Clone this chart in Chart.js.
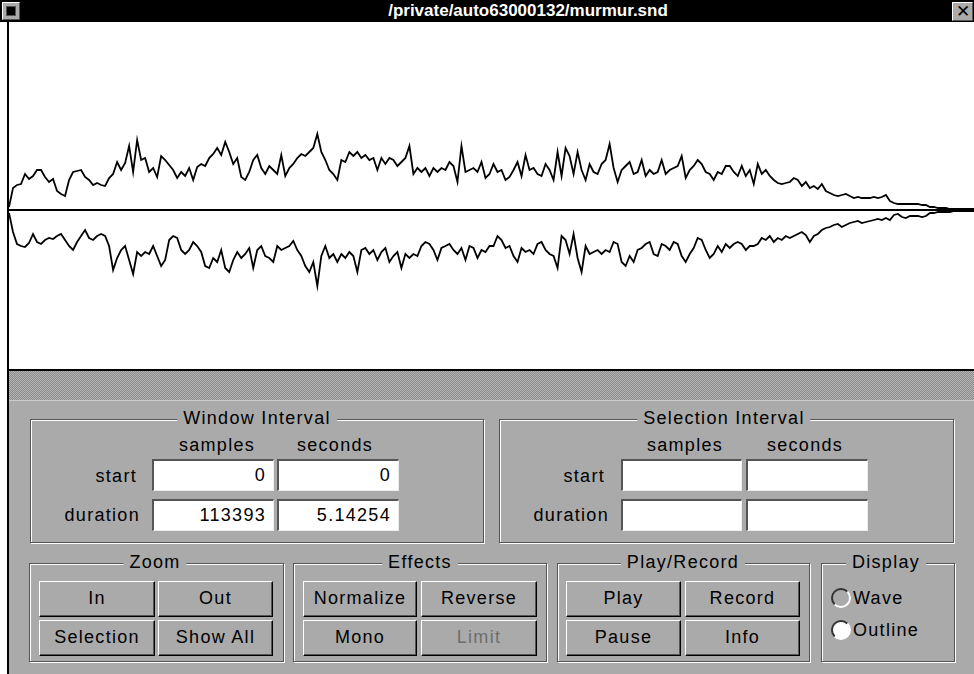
<!DOCTYPE html>
<html>
<head>
<meta charset="utf-8">
<script src="https://cdn.jsdelivr.net/npm/chart.js@4.4.1/dist/chart.umd.min.js"></script>
<style>
  html,body{margin:0;padding:0;}
  body{width:974px;height:674px;overflow:hidden;background:#fff;position:relative;
       font-family:"Liberation Sans",Arial,Helvetica,sans-serif;color:#000;}
  .a{position:absolute;}
  #titlebar{left:0;top:0;width:974px;height:22px;background:#000;}
  #titletext{left:54px;top:0;width:948px;height:22px;line-height:22px;text-align:center;color:#fff;
       font-weight:bold;font-size:17px;letter-spacing:0px;}
  #mini{left:2px;top:2px;width:16px;height:16px;background:#aaa;border-top:1px solid #fff;border-left:1px solid #fff;border-right:1px solid #555;border-bottom:1px solid #555;}
  #mini div{position:absolute;left:3px;top:3px;width:8px;height:8px;background:#000;border:1px solid #555;}
  #close{left:952px;top:2px;width:19px;height:17px;background:#aaa;border-top:1px solid #fff;border-left:1px solid #fff;border-right:1px solid #555;border-bottom:1px solid #555;
       font-size:17px;line-height:17px;text-align:center;color:#000;}
  #lborder{left:7px;top:22px;width:2px;height:652px;background:#000;}
  #wave{left:9px;top:22px;width:965px;height:348px;background:#fff;}
  #wbottom{left:9px;top:369px;width:965px;height:2px;background:#000;}
  #band{left:9px;top:371px;width:965px;height:29px;
        background:repeating-conic-gradient(#8c8c8c 0 25%, #b4b4b4 0 50%) 0 0/2px 2px;}
  #panel{left:9px;top:400px;width:965px;height:274px;background:#aaa;border-top:1px solid #ccc;box-sizing:border-box;}
  #chartbox{left:9px;top:50px;width:965px;height:320px;}
  .grp{position:absolute;box-sizing:border-box;border:1px solid #555;box-shadow:inset 1px 1px 0 #fff, 1px 1px 0 #fff;}
  .gt{position:absolute;background:#aaa;font-size:18px;letter-spacing:1.3px;padding:0 6px;line-height:20px;transform:translateX(-50%);white-space:nowrap;}
  .lbl{position:absolute;font-size:18px;letter-spacing:1.3px;line-height:20px;white-space:nowrap;}
  .c{transform:translateX(-50%);}
  .r{transform:translateX(-100%);}
  .fld{position:absolute;box-sizing:border-box;background:#fff;border-top:2px solid #555;border-left:2px solid #555;
       border-right:1px solid #eee;border-bottom:1px solid #eee;text-align:right;padding-right:7px;
       font-size:18px;letter-spacing:1.3px;height:32px;line-height:29px;}
  .btn{position:absolute;box-sizing:border-box;background:#aaa;border-top:1px solid #fff;border-left:1px solid #fff;
       border-right:1px solid #000;border-bottom:1px solid #000;box-shadow:inset -1px -1px 0 #555;
       text-align:center;font-size:18px;letter-spacing:1.3px;height:36px;line-height:33px;}
  .dis{color:#6e6e6e;}
  .radio{position:absolute;box-sizing:border-box;width:20px;height:20px;border-radius:50%;
       border:2px solid;border-color:#333 #fff #fff #333;background:#aaa;}
  .radio.on{background:#fff;}
</style>
</head>
<body>
<div id="titlebar" class="a"></div>
<div id="titletext" class="a">/private/auto63000132/murmur.snd</div>
<div id="mini" class="a"><div></div></div>
<div id="close" class="a">✕</div>
<div id="lborder" class="a"></div>
<div id="wave" class="a"></div>
<div id="chartbox" class="a"><canvas id="c" width="965" height="320"></canvas></div>
<div id="wbottom" class="a"></div>
<div id="band" class="a"></div>
<div id="panel" class="a"></div>

<!-- Window Interval -->
<div class="grp" style="left:30px;top:419px;width:454px;height:124px;"></div>
<div class="gt" style="left:257px;top:408px;">Window Interval</div>
<div class="lbl c" style="left:217px;top:435px;">samples</div>
<div class="lbl c" style="left:335px;top:435px;">seconds</div>
<div class="lbl r" style="left:137px;top:466px;">start</div>
<div class="lbl r" style="left:140px;top:505px;">duration</div>
<div class="fld" style="left:152px;top:459px;width:122px;">0</div>
<div class="fld" style="left:277px;top:459px;width:122px;">0</div>
<div class="fld" style="left:152px;top:499px;width:122px;">113393</div>
<div class="fld" style="left:277px;top:499px;width:122px;">5.14254</div>

<!-- Selection Interval -->
<div class="grp" style="left:499px;top:419px;width:455px;height:124px;"></div>
<div class="gt" style="left:724px;top:408px;">Selection Interval</div>
<div class="lbl c" style="left:685px;top:435px;">samples</div>
<div class="lbl c" style="left:805px;top:435px;">seconds</div>
<div class="lbl r" style="left:605px;top:466px;">start</div>
<div class="lbl r" style="left:609px;top:505px;">duration</div>
<div class="fld" style="left:621px;top:459px;width:121px;"></div>
<div class="fld" style="left:746px;top:459px;width:122px;"></div>
<div class="fld" style="left:621px;top:499px;width:121px;"></div>
<div class="fld" style="left:746px;top:499px;width:122px;"></div>

<!-- Zoom -->
<div class="grp" style="left:29px;top:563px;width:255px;height:99px;"></div>
<div class="gt" style="left:155px;top:552px;">Zoom</div>
<div class="btn" style="left:39px;top:581px;width:116px;">In</div>
<div class="btn" style="left:158px;top:581px;width:115px;">Out</div>
<div class="btn" style="left:39px;top:620px;width:116px;">Selection</div>
<div class="btn" style="left:158px;top:620px;width:115px;">Show All</div>

<!-- Effects -->
<div class="grp" style="left:293px;top:563px;width:254px;height:99px;"></div>
<div class="gt" style="left:420px;top:552px;">Effects</div>
<div class="btn" style="left:303px;top:581px;width:114px;">Normalize</div>
<div class="btn" style="left:421px;top:581px;width:116px;">Reverse</div>
<div class="btn" style="left:303px;top:620px;width:114px;">Mono</div>
<div class="btn dis" style="left:421px;top:620px;width:116px;">Limit</div>

<!-- Play/Record -->
<div class="grp" style="left:557px;top:563px;width:253px;height:99px;"></div>
<div class="gt" style="left:683px;top:552px;">Play/Record</div>
<div class="btn" style="left:566px;top:581px;width:115px;">Play</div>
<div class="btn" style="left:685px;top:581px;width:115px;">Record</div>
<div class="btn" style="left:566px;top:620px;width:115px;">Pause</div>
<div class="btn" style="left:685px;top:620px;width:115px;">Info</div>

<!-- Display -->
<div class="grp" style="left:821px;top:563px;width:134px;height:99px;"></div>
<div class="gt" style="left:886px;top:552px;">Display</div>
<div class="radio" style="left:831px;top:588px;"></div>
<div class="lbl" style="left:853px;top:588px;">Wave</div>
<div class="radio on" style="left:831px;top:620px;"></div>
<div class="lbl" style="left:853px;top:620px;">Outline</div>

<script>
// Outline (envelope) of murmur.snd, one value every ~470 samples
const upperEnvelope = [
  3,22,25,26,36,31,34,40,40,33,28,
  31,19,16,14,30,38,39,40,33,30,
  25,27,25,24,32,36,48,40,47,64,
  38,70,50,52,38,42,33,54,50,45,
  40,32,38,34,42,30,43,46,44,52,
  56,62,55,68,58,46,52,33,30,38,
  50,55,42,36,44,40,36,55,34,42,
  46,52,56,54,58,62,76,58,50,40,
  36,30,50,48,58,54,58,52,55,50,
  52,40,52,46,52,50,44,48,52,64,
  36,42,38,42,34,42,38,42,40,48,
  44,28,64,38,40,42,38,48,32,36,
  46,38,40,30,33,40,48,34,55,40,
  42,36,34,46,40,30,58,34,62,54,
  36,58,40,30,46,38,36,46,50,66,
  42,28,40,44,48,36,38,50,34,40,
  36,38,50,36,40,42,44,54,32,40,
  44,50,46,38,36,30,38,36,44,44,
  38,34,44,34,40,26,46,36,40,34,
  30,27,26,27,28,32,30,24,28,22,
  24,21,26,19,17,15,14,15,16,14,
  12,13,12,12,12,13,12,13,15,9,
  7,6,6,6,6,6,6,5,5,3,
  3,2,2,2,1,1,1,1,1,1,1
];
const lowerEnvelope = [
  -3,-22,-34,-36,-37,-33,-24,-32,-34,-30,-28,
  -29,-26,-24,-30,-36,-40,-32,-26,-20,-28,
  -30,-26,-24,-26,-36,-60,-48,-40,-36,-50,
  -64,-42,-46,-42,-44,-36,-46,-56,-50,-30,
  -26,-28,-40,-44,-40,-32,-36,-42,-56,-58,
  -48,-52,-40,-58,-62,-50,-42,-48,-44,-38,
  -58,-40,-36,-46,-48,-52,-36,-40,-38,-36,
  -31,-40,-46,-56,-62,-52,-76,-46,-36,-48,
  -44,-52,-44,-48,-42,-46,-62,-40,-38,-44,
  -40,-50,-42,-38,-52,-46,-42,-58,-44,-48,
  -44,-46,-36,-32,-34,-40,-50,-38,-36,-34,
  -40,-44,-38,-50,-36,-38,-48,-40,-42,-36,
  -36,-26,-30,-38,-36,-46,-52,-38,-42,-40,
  -44,-34,-32,-40,-44,-46,-58,-26,-30,-44,
  -24,-48,-62,-36,-44,-42,-40,-44,-40,-42,
  -32,-34,-52,-56,-46,-52,-40,-38,-34,-32,
  -44,-46,-34,-36,-40,-32,-34,-46,-52,-44,
  -38,-28,-30,-40,-48,-44,-36,-42,-34,-38,
  -34,-32,-34,-40,-36,-36,-34,-28,-30,-26,
  -32,-28,-30,-26,-28,-26,-24,-22,-25,-32,
  -26,-24,-20,-18,-17,-15,-14,-17,-15,-13,
  -12,-11,-13,-12,-11,-10,-9,-10,-8,-10,
  -5,-4,-7,-8,-6,-6,-6,-7,-6,-3,
  -3,-2,-2,-2,-2,-1,-1,-1,-1,-1,-1
];
const frames = upperEnvelope.map((_, i) => i);
const amplitudeRange = [-160, 160];

const baseline = {
  id: 'baseline',
  beforeDatasetsDraw(chart) {
    const y = chart.scales.y.getPixelForValue(0);
    const ctx = chart.ctx;
    ctx.save();
    ctx.strokeStyle = '#000';
    ctx.lineWidth = 2;
    ctx.beginPath();
    ctx.moveTo(chart.chartArea.left, y);
    ctx.lineTo(chart.chartArea.right, y);
    ctx.stroke();
    ctx.restore();
  }
};

new Chart(document.getElementById('c'), {
  type: 'line',
  data: {
    labels: frames,
    datasets: [
      { data: upperEnvelope, borderColor: '#000', borderWidth: 1.8, pointRadius: 0, tension: 0, fill: false },
      { data: lowerEnvelope, borderColor: '#000', borderWidth: 1.8, pointRadius: 0, tension: 0, fill: false }
    ]
  },
  options: {
    responsive: false,
    animation: false,
    devicePixelRatio: 1,
    layout: { padding: 0 },
    plugins: { legend: { display: false }, tooltip: { enabled: false } },
    scales: {
      x: { display: false, offset: false },
      y: { display: false, min: amplitudeRange[0], max: amplitudeRange[1] }
    }
  },
  plugins: [baseline]
});
</script>
</body>
</html>
